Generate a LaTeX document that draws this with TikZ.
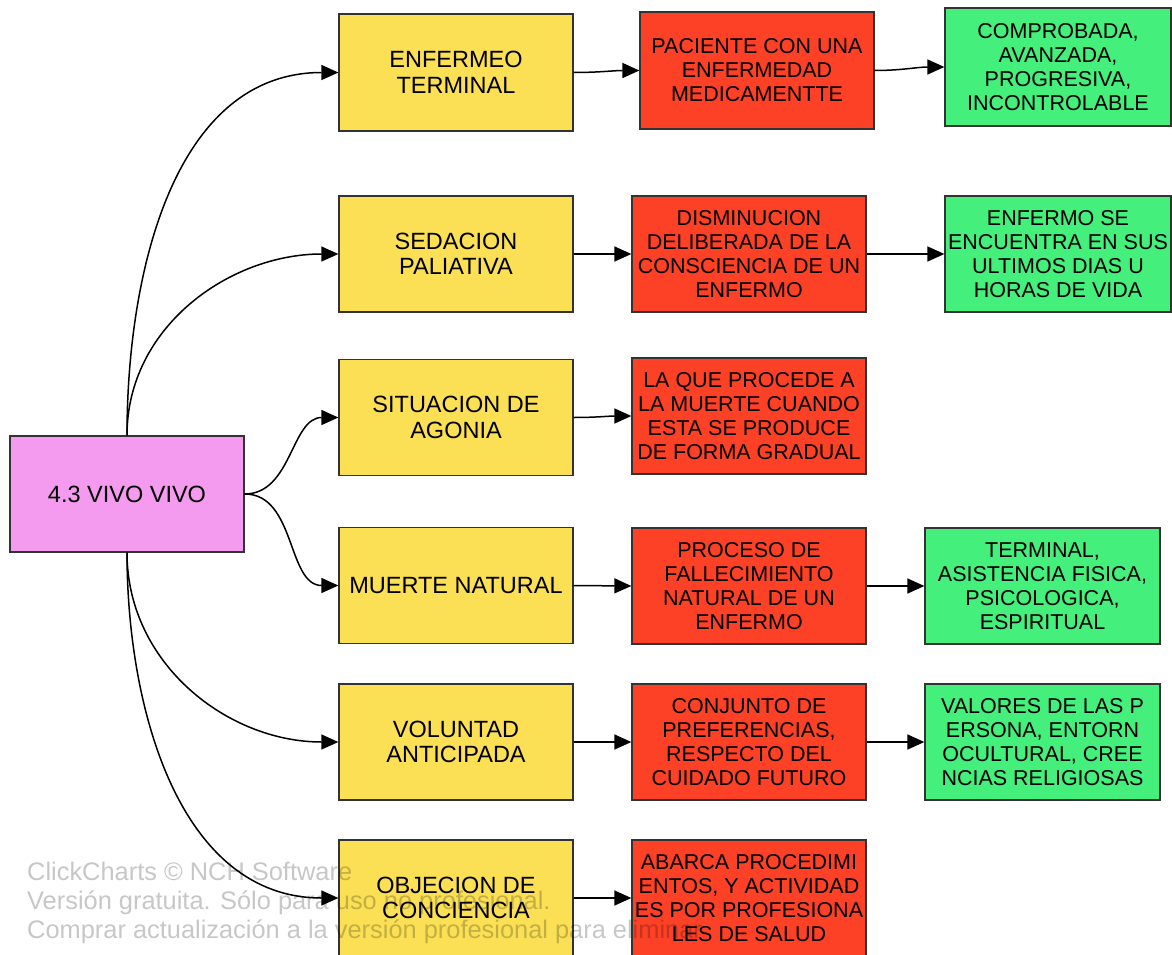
\documentclass[tikz,border=0pt]{standalone}
\usepackage{fontspec}
\setmainfont{Liberation Sans}
\usetikzlibrary{arrows.meta}
\definecolor{cpink}{HTML}{F49BF0}
\definecolor{cyel}{HTML}{FBE055}
\definecolor{cred}{HTML}{FD4126}
\definecolor{cgreen}{HTML}{45EF7B}
\definecolor{cborder}{HTML}{333333}
\begin{document}
\begin{tikzpicture}[x=1pt,y=1pt,
  box/.style={draw=cborder, line width=1.3pt, minimum width=234pt, minimum height=116pt,
    inner sep=0pt, align=center, font=\fontsize{21.5}{24}\selectfont},
  bigbox/.style={box, font=\fontsize{23.5}{25.5}\selectfont},
  rootbox/.style={bigbox, fill=cpink},
  ybox/.style={bigbox, fill=cyel},
  rbox/.style={box, fill=cred},
  gbox/.style={box, fill=cgreen},
  conn/.style={line width=1.5pt, -{Triangle[length=17pt,width=15pt]}},
  wmark/.style={anchor=base west, inner sep=0pt, text=black, text opacity=0.22,
    font=\fontsize{25.4}{29}\selectfont}]
\useasboundingbox (0,0) rectangle (1172,-955);
\fill[white] (0,0) rectangle (1172,-955);

\node[rootbox] (root) at (127,-494) {4.3 VIVO VIVO};

\node[ybox, minimum height=117pt] (y1) at (456,-72.5) {ENFERMEO\\TERMINAL};
\node[ybox] (y2) at (456,-254) {SEDACION\\PALIATIVA};
\node[ybox] (y3) at (456,-417.5) {SITUACION DE\\AGONIA};
\node[ybox] (y4) at (456,-585.5) {MUERTE NATURAL};
\node[ybox] (y5) at (456,-742) {VOLUNTAD\\ANTICIPADA};
\node[ybox] (y6) at (456,-898) {OBJECION DE\\CONCIENCIA};

\node[rbox, minimum height=117pt] (r1) at (757,-70.5) {PACIENTE CON UNA\\ENFERMEDAD\\MEDICAMENTTE};
\node[rbox] (r2) at (749,-254) {DISMINUCION\\DELIBERADA DE LA\\CONSCIENCIA DE UN\\ENFERMO};
\node[rbox] (r3) at (749,-416) {LA QUE PROCEDE A\\LA MUERTE CUANDO\\ESTA SE PRODUCE\\DE FORMA GRADUAL};
\node[rbox] (r4) at (749,-586) {PROCESO DE\\FALLECIMIENTO\\NATURAL DE UN\\ENFERMO};
\node[rbox] (r5) at (749,-742) {CONJUNTO DE\\PREFERENCIAS,\\RESPECTO DEL\\CUIDADO FUTURO};
\node[rbox] (r6) at (749,-898) {ABARCA PROCEDIMI\\ENTOS, Y ACTIVIDAD\\ES POR PROFESIONA\\LES DE SALUD};

\node[gbox, minimum width=226pt, minimum height=118pt] (g1) at (1058,-67) {COMPROBADA,\\AVANZADA,\\PROGRESIVA,\\INCONTROLABLE};
\node[gbox, minimum width=226pt] (g2) at (1058,-254) {ENFERMO SE\\ENCUENTRA EN SUS\\ULTIMOS DIAS U\\HORAS DE VIDA};
\node[gbox, minimum width=235pt] (g4) at (1042.5,-586) {TERMINAL,\\ASISTENCIA FISICA,\\PSICOLOGICA,\\ESPIRITUAL};
\node[gbox, minimum width=235pt] (g5) at (1042.5,-742) {VALORES DE LAS P\\ERSONA, ENTORN\\OCULTURAL, CREE\\NCIAS RELIGIOSAS};

\draw[conn] (root.north) to[out=90,in=180] (y1.west);
\draw[conn] (root.north) to[out=90,in=180] (y2.west);
\draw[conn] (root.east) to[out=0,in=180] (y3.west);
\draw[conn] (root.east) to[out=0,in=180] (y4.west);
\draw[conn] (root.south) to[out=-90,in=180] (y5.west);
\draw[conn] (root.south) to[out=-90,in=180] (y6.west);

\draw[conn] (y1.east) to[out=0,in=180] (r1.west);
\draw[conn] (y2.east) -- (r2.west);
\draw[conn] (y3.east) to[out=0,in=180] (r3.west);
\draw[conn] (y4.east) -- (r4.west);
\draw[conn] (y5.east) -- (r5.west);
\draw[conn] (y6.east) -- (r6.west);

\draw[conn] (r1.east) to[out=0,in=180] (g1.west);
\draw[conn] (r2.east) -- (g2.west);
\draw[conn] (r4.east) -- (g4.west);
\draw[conn] (r5.east) -- (g5.west);

\node[wmark] (wm1) at (27,-880) {ClickCharts © NCH Software};
\node[wmark] (wm2) at (27,-909) {Versión gratuita. Sólo para uso no profesional.};
\node[wmark] (wm3) at (27,-938) {Comprar actualización a la versión profesional para eliminar};
\end{tikzpicture}
\end{document}
